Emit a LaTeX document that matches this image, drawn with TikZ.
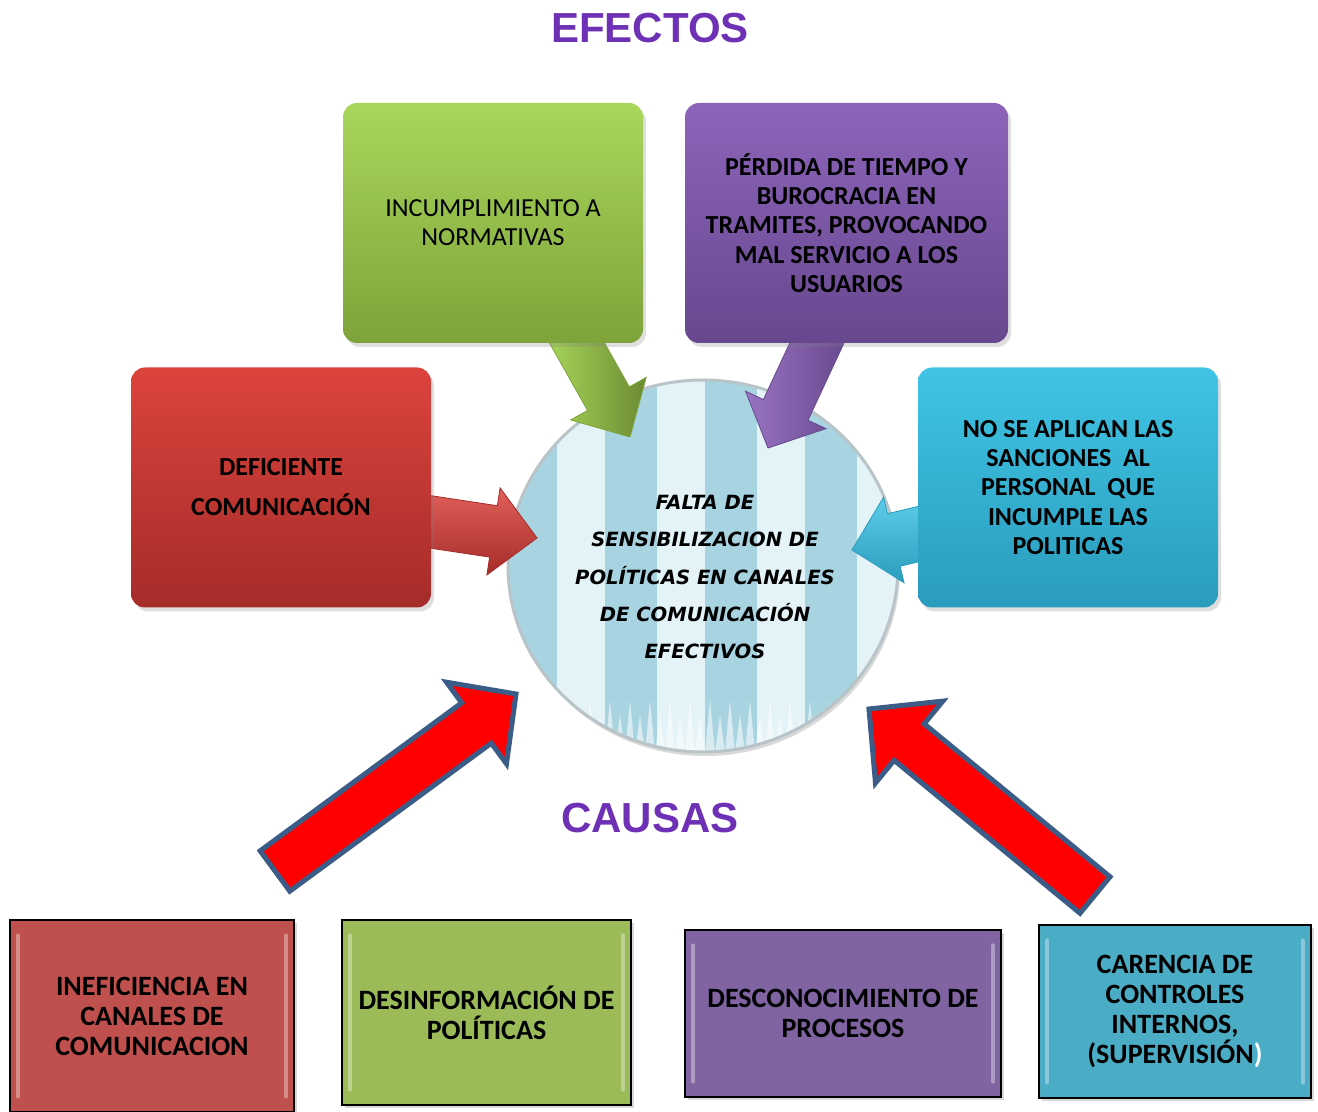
\documentclass[tikz,border=0pt]{standalone}
\usepackage{fontspec}
\setmainfont{Carlito}
\newfontfamily\arialfont{Liberation Sans}
\newfontfamily\heavyfont{DejaVu Sans}
\usetikzlibrary{calc,positioning,shadows,shapes.geometric}

\definecolor{titlepurple}{HTML}{6E30B4}
\definecolor{grtop}{HTML}{A9D65B}
\definecolor{grbot}{HTML}{7EA33A}
\definecolor{putop}{HTML}{8D64BB}
\definecolor{pubot}{HTML}{67488E}
\definecolor{retop}{HTML}{DC433D}
\definecolor{rebot}{HTML}{A52C29}
\definecolor{cytop}{HTML}{40C4E5}
\definecolor{cybot}{HTML}{2A9CBD}
\definecolor{cbred}{HTML}{C0504D}
\definecolor{cbgreen}{HTML}{9BBB59}
\definecolor{cbpurple}{HTML}{8064A2}
\definecolor{cbcyan}{HTML}{4BACC6}
\definecolor{stripeblue}{HTML}{A8D3E0}
\definecolor{stripelight}{HTML}{E4F3F7}
\definecolor{rimgray}{HTML}{B9C4C8}
\definecolor{arrowrim}{HTML}{3C5C88}

\pgfdeclarelayer{back}
\pgfdeclarelayer{mid}
\pgfsetlayers{back,mid,main}

% block arrow: style, tail, tip, half shaft, half head, head length
\newcommand{\blockarrow}[6]{%
  \coordinate (ba-h) at ($(#3)!#6!(#2)$);
  \path[#1] ($(#2)!#4!90:(#3)$) -- ($(ba-h)!#4!90:(#3)$) -- ($(ba-h)!#5!90:(#3)$)
    -- (#3) -- ($(ba-h)!#5!-90:(#3)$) -- ($(ba-h)!#4!-90:(#3)$)
    -- ($(#2)!#4!-90:(#3)$) -- cycle;}

\begin{document}
\begin{tikzpicture}[x=0.5pt,y=-0.5pt,
    headline/.style={font=\arialfont\bfseries\fontsize{21}{21}\selectfont, text=titlepurple},
    efbox/.style={rounded corners=7pt, minimum width=150pt, minimum height=120pt, align=center,
      font=\bfseries\fontsize{13}{14.6}\selectfont,
      drop shadow={shadow xshift=1.5pt, shadow yshift=-2pt, opacity=.25}},
    cbox/.style={draw=black, line width=.6pt, align=center, font=\bfseries\fontsize{14}{15}\selectfont,
      drop shadow={shadow xshift=1.5pt, shadow yshift=-1.5pt, opacity=.3}},
    bevel/.style={white, opacity=.35, line width=2pt, line cap=round},
    effarrow/.style={line join=miter, line width=.4pt},
    causearrow/.style={fill=red, draw=arrowrim, line width=2.5pt, line join=miter},
    probtext/.style={align=center, font=\heavyfont\bfseries\itshape\fontsize{9.8}{18.6}\selectfont}]

    \useasboundingbox (0,0) rectangle (1318,1112);

    % central problem
    \begin{pgfonlayer}{back}
    \node[ellipse, minimum width=195pt, minimum height=186pt, inner sep=0pt, fill=stripelight,
      drop shadow={shadow xshift=1pt, shadow yshift=-2pt, opacity=.3}] (prob) at (703,566) {};
    \begin{scope}
      \clip (prob.center) ellipse [x radius=97.5pt, y radius=93pt];
      \foreach \i in {0,...,4}
        \fill[stripeblue] (505+\i*100,370) rectangle +(52,400);
      \foreach \k in {0,...,19}
        \fill[white, opacity=.55] (505+\k*20,752) -- (510+\k*20,700) -- (515+\k*20,752) -- (520+\k*20,715) -- (525+\k*20,752) -- cycle;
    \end{scope}
    \draw[rimgray, line width=1.5pt] (prob.center) ellipse [x radius=97.5pt, y radius=93pt];
    \end{pgfonlayer}
    \node[probtext] (probtxt) at ($(prob.center)+(2,11)$)
      {FALTA DE\\SENSIBILIZACION DE\\POLÍTICAS EN CANALES\\DE COMUNICACIÓN\\EFECTIVOS};

    % effects
    \node[headline] (efectos) at (650,28) {EFECTOS};
    \node[efbox, top color=grtop, bottom color=grbot, font=\mdseries\fontsize{13}{14.6}\selectfont]
      (gbox) at (493,223) {INCUMPLIMIENTO A\\NORMATIVAS};
    \node[efbox, minimum width=161.5pt, top color=putop, bottom color=pubot]
      (pbox) at (846.5,223) {PÉRDIDA DE TIEMPO Y\\BUROCRACIA EN\\TRAMITES, PROVOCANDO\\MAL SERVICIO A LOS\\USUARIOS};
    \node[efbox, top color=retop, bottom color=rebot, font=\bfseries\fontsize{13}{20}\selectfont]
      (rbox) at (281,487.5) {DEFICIENTE\\COMUNICACIÓN};
    \node[efbox, top color=cytop, bottom color=cybot]
      (cbox) at (1068,487.5) {NO SE APLICAN LAS\\SANCIONES\ \ AL\\PERSONAL\ \ QUE\\INCUMPLE LAS\\POLITICAS};

    \coordinate (gstart) at ($(gbox.south)+(73,-20)$);
    \coordinate (gtip) at (630,437);
    \coordinate (pstart) at ($(pbox.south)+(-20.5,-20)$);
    \coordinate (ptip) at (768,448);
    \coordinate (rstart) at ($(rbox.east)+(-20,31.5)$);
    \coordinate (rtip) at (537,538);
    \coordinate (cstart) at ($(cbox.west)+(20,42)$);
    \coordinate (ctip) at (852,550);

    \begin{pgfonlayer}{mid}
    \blockarrow{effarrow, draw=grbot, left color=grtop, right color=grbot!85!black}{gstart}{gtip}{12pt}{21.7pt}{22pt}
    \blockarrow{effarrow, draw=pubot, left color=putop!90!white, right color=pubot}{pstart}{ptip}{12.3pt}{22.2pt}{21pt}
    \blockarrow{effarrow, draw=rebot, top color=retop!85!white, bottom color=rebot}{rstart}{rtip}{13pt}{22pt}{22pt}
    \blockarrow{effarrow, draw=cybot, top color=cytop!85!white, bottom color=cybot}{cstart}{ctip}{13.5pt}{22pt}{21.5pt}
    \end{pgfonlayer}

    % causes
    \node[headline] (causas) at (650,818) {CAUSAS};
    \node[cbox, fill=cbred, minimum width=142pt, minimum height=96pt]
      (cb1) at (152,1016) {INEFICIENCIA EN\\CANALES DE\\COMUNICACION};
    \node[cbox, fill=cbgreen, minimum width=144.5pt, minimum height=92.5pt]
      (cb2) at (486.5,1012.5) {DESINFORMACIÓN DE\\POLÍTICAS};
    \node[cbox, fill=cbpurple, minimum width=158pt, minimum height=83.5pt]
      (cb3) at (843,1013.5) {DESCONOCIMIENTO DE\\PROCESOS};
    \node[cbox, fill=cbcyan, minimum width=136pt, minimum height=86.5pt]
      (cb4) at (1175,1011.5) {CARENCIA DE\\CONTROLES\\INTERNOS,\\(SUPERVISIÓN\textcolor{white}{)}};
    \foreach \b in {cb1,cb2,cb3,cb4} {
      \draw[bevel] ($(\b.north west)+(9,16)$) -- ($(\b.south west)+(9,-16)$);
      \draw[bevel] ($(\b.north east)+(-9,16)$) -- ($(\b.south east)+(-9,-16)$);
    }

    \coordinate (ltail) at (275,871);
    \coordinate (ltip) at (516,694);
    \coordinate (rtail) at (1095,895);
    \coordinate (rtip2) at (869,709);
    \blockarrow{causearrow}{ltail}{ltip}{12.5pt}{25.3pt}{24.5pt}
    \blockarrow{causearrow}{rtail}{rtip2}{11.8pt}{26.5pt}{26pt}

\end{tikzpicture}
\end{document}
